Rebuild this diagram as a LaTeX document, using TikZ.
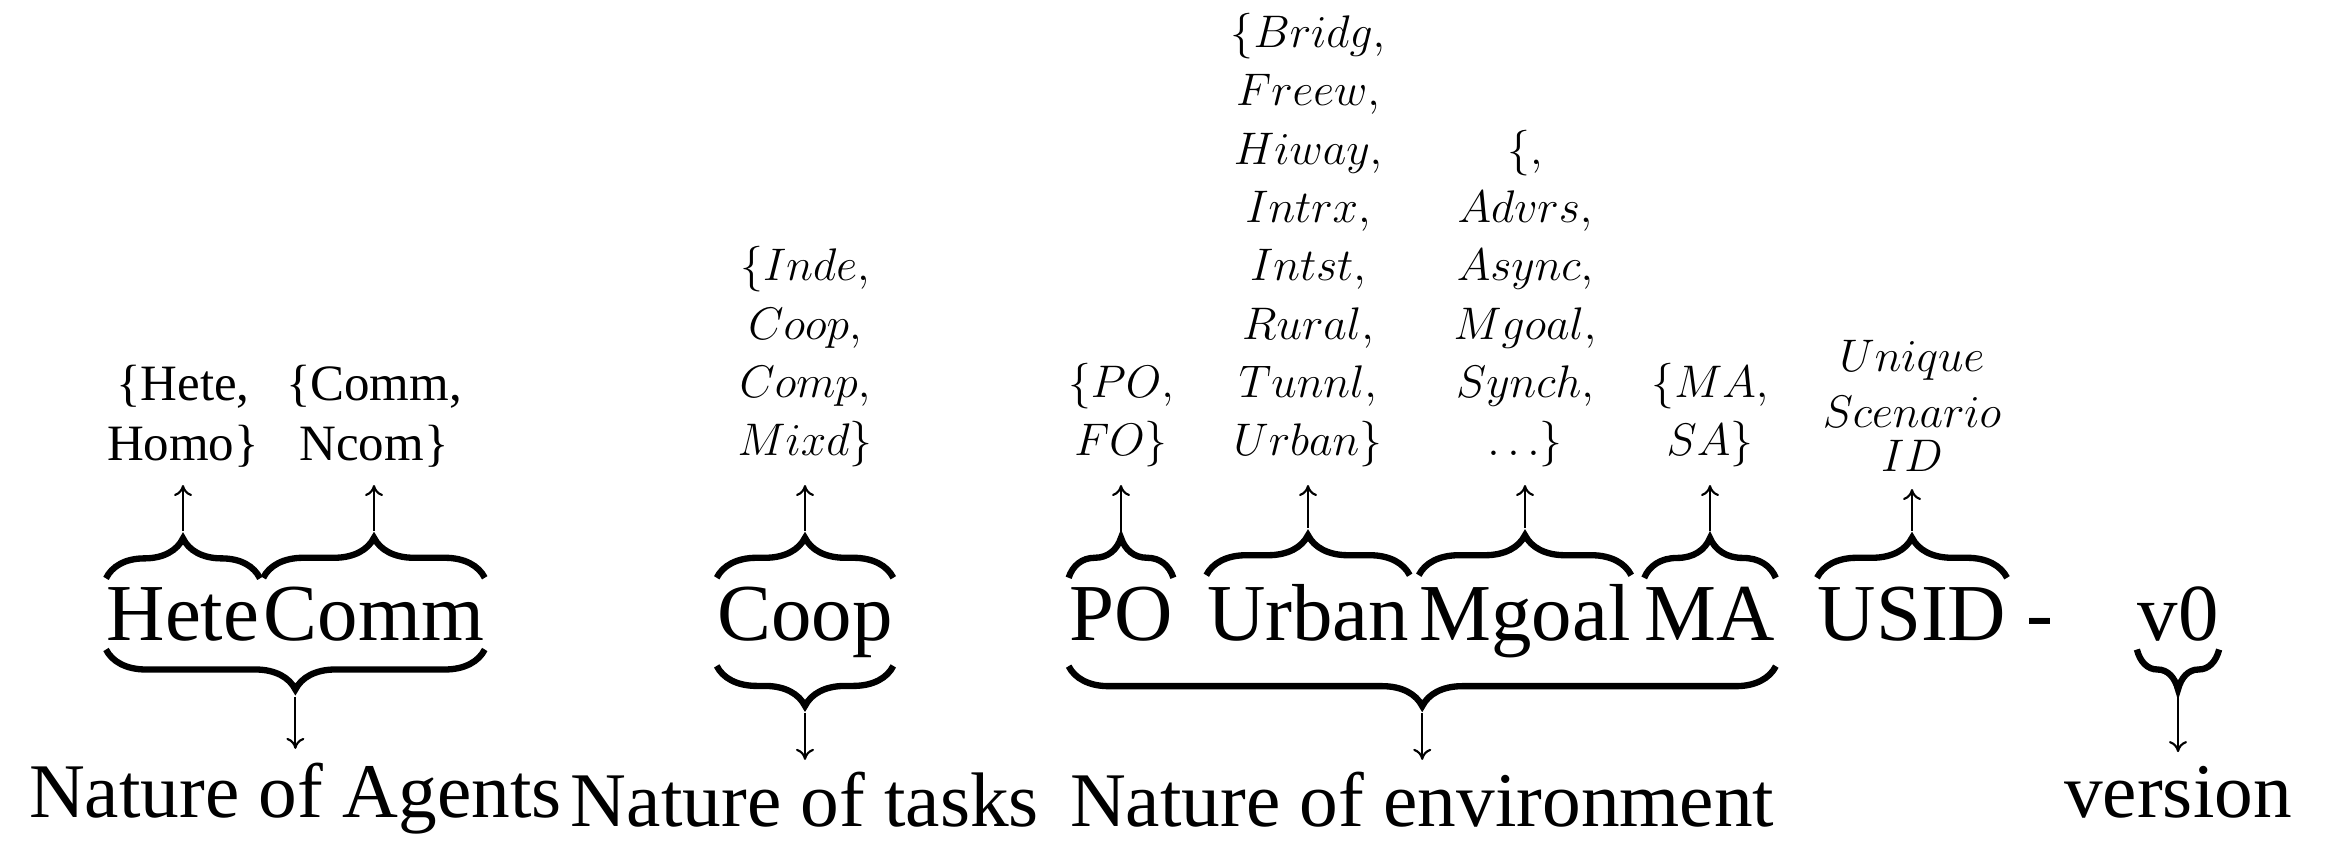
\RequirePackage{fix-cm}
\documentclass[tikz,border=0pt]{standalone}
\usepackage[no-math]{fontspec}
\setmainfont{Liberation Serif}
\usetikzlibrary{decorations.pathreplacing,arrows.meta,calc}

\begin{document}
\begin{tikzpicture}
	\tikzstyle{every node}=[inner sep=0pt, font=\fontsize{23pt}{27pt}\selectfont]
	\tikzstyle{word}=[anchor=base]
	\tikzstyle{cat}=[anchor=base, font=\fontsize{22pt}{26pt}\selectfont]
	\tikzstyle{opts}=[anchor=south, align=center, font=\fontsize{13pt}{16.6pt}\selectfont]
	\tikzstyle{obrace}=[decorate, decoration={brace, amplitude=0.4cm, raise=0.08cm}, line width=1.8pt]
	\tikzstyle{ubrace}=[decorate, decoration={brace, mirror, amplitude=0.4cm, raise=0.08cm}, line width=1.8pt]
	\tikzstyle{pointer}=[-{To[length=1.1mm,width=1.8mm]}, line width=0.6pt, shorten <=0.06cm]
	\useasboundingbox (0,0) rectangle (23.38,8.42);
	% scenario name
	\node [word] (hete) at (1.83,2.02) {Hete};
	\node [word] (comm) at (3.74,2.02) {Comm};
	\node [word] (coop) at (8.05,2.02) {Coop};
	\node [word] (po) at (11.21,2.02) {PO};
	\node [word] (urban) at (13.08,2.02) {Urban};
	\node [word] (mgoal) at (15.25,2.02) {Mgoal};
	\node [word] (ma) at (17.10,2.02) {MA};
	\node [word] (usid) at (19.12,2.02) {USID};
	\node [word] (dash) at (20.40,2.02) {-};
	\node [word] (ver) at (21.78,2.02) {v0};
	% braces over single fields
	\draw [obrace] (hete.north west) -- (hete.north east);
	\draw [obrace] (comm.north west) -- (comm.north east);
	\draw [obrace] (coop.north west) -- (coop.north east);
	\draw [obrace] (po.north west) -- (po.north east);
	\draw [obrace] (urban.north west) -- (urban.north east);
	\draw [obrace] (mgoal.north west) -- (mgoal.north east);
	\draw [obrace] (ma.north west) -- (ma.north east);
	\draw [obrace] (usid.north west) -- (usid.north east);
	\coordinate (hetetip) at ([yshift=0.49cm]hete.north);
	\coordinate (commtip) at ([yshift=0.49cm]comm.north);
	\coordinate (cooptip) at ([yshift=0.49cm]coop.north);
	\coordinate (potip) at ([yshift=0.49cm]po.north);
	\coordinate (urbantip) at ([yshift=0.49cm]urban.north);
	\coordinate (mgoaltip) at ([yshift=0.49cm]mgoal.north);
	\coordinate (matip) at ([yshift=0.49cm]ma.north);
	\coordinate (usidtip) at ([yshift=0.49cm]usid.north);
	% possible values
	\node [opts, font=\fontsize{14.5pt}{17pt}\selectfont] (hetelbl) at (1.83,3.74) {\{Hete,\\Homo\}};
	\node [opts, font=\fontsize{14.5pt}{17pt}\selectfont] (commlbl) at (3.74,3.74) {\{Comm,\\Ncom\}};
	\node [opts] (cooplbl) at (8.05,3.74) {$\{Inde,$\\$Coop,$\\$Comp,$\\$Mixd\}$};
	\node [opts] (polbl) at (11.21,3.74) {$\{PO,$\\$FO\}$};
	\node [opts] (urbanlbl) at (13.08,3.74) {$\{Bridg,$\\$Freew,$\\$Hiway,$\\$Intrx,$\\$Intst,$\\$Rural,$\\$Tunnl,$\\$Urban\}$};
	\node [opts] (mgoallbl) at (15.25,3.74) {$\{,$\\$Advrs,$\\$Async,$\\$Mgoal,$\\$Synch,$\\$\ldots\}$};
	\node [opts] (malbl) at (17.10,3.74) {$\{MA,$\\$SA\}$};
	\node [opts, font=\fontsize{13pt}{12.5pt}\selectfont] (usidlbl) at (19.12,3.70) {$Unique$\\[0.12cm]$Scenario$\\$ID$};
	\draw [pointer, shorten >=0.17cm] (hetetip) -- (hetetip |- hetelbl.south);
	\draw [pointer, shorten >=0.17cm] (commtip) -- (commtip |- commlbl.south);
	\draw [pointer, shorten >=0.17cm] (cooptip) -- (cooptip |- cooplbl.south);
	\draw [pointer, shorten >=0.17cm] (potip) -- (potip |- polbl.south);
	\draw [pointer, shorten >=0.17cm] (urbantip) -- (urbantip |- urbanlbl.south);
	\draw [pointer, shorten >=0.17cm] (mgoaltip) -- (mgoaltip |- mgoallbl.south);
	\draw [pointer, shorten >=0.17cm] (matip) -- (matip |- malbl.south);
	\draw [pointer, shorten >=0.17cm] (usidtip) -- (usidtip |- usidlbl.south);
	% braces under groups
	\draw [ubrace] (hete.south west) -- (hete.south west -| comm.east);
	\draw [ubrace] (coop.south west) -- (coop.south east);
	\draw [ubrace] (po.west |- mgoal.south) -- (ma.east |- mgoal.south);
	\draw [ubrace] (ver.south west) -- (ver.south east);
	\coordinate (agtip) at ($(hete.south west)!0.5!(hete.south west -| comm.east)-(0,0.49)$);
	\coordinate (tasktip) at ($(coop.south)-(0,0.49)$);
	\coordinate (envtip) at ($(po.west |- mgoal.south)!0.5!(ma.east |- mgoal.south)-(0,0.49)$);
	\coordinate (vertip) at ($(ver.south)-(0,0.49)$);
	% categories
	\node [cat] (agents) at (agtip |- 0,0.25) {Nature of Agents};
	\node [cat] (tasks) at (tasktip |- 0,0.16) {Nature of tasks};
	\node [cat] (env) at (envtip |- 0,0.16) {Nature of environment};
	\node [cat] (version) at (vertip |- 0,0.25) {version};
	\draw [pointer, shorten >=0.13cm] (agtip) -- (agtip |- agents.north);
	\draw [pointer, shorten >=0.11cm] (tasktip) -- (tasktip |- tasks.north);
	\draw [pointer, shorten >=0.11cm] (envtip) -- (envtip |- env.north);
	\draw [pointer, shorten >=0.13cm] (vertip) -- (vertip |- version.north);
\end{tikzpicture}
\end{document}
